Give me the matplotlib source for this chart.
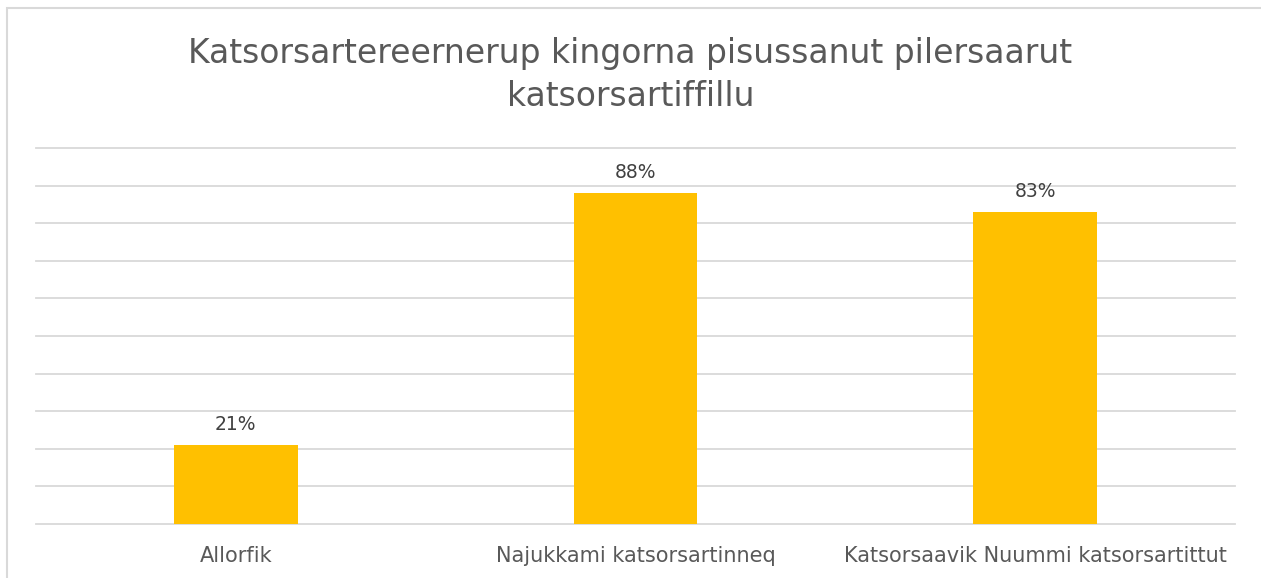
import matplotlib.pyplot as plt
from matplotlib.patches import Rectangle

# andelen der har en plan for tiden efter uddannelsen
kategorier = ['Allorfik', 'Najukkami katsorsartinneq', 'Katsorsaavik Nuummi katsorsartittut']
procent = [21, 88, 83]

fig = plt.figure(figsize=(12.61, 5.78), dpi=100)
ax = fig.add_axes([36/1261, 1-524/578, (1235-36)/1261, (524-148)/578])

# ramme rundt om diagrammet
fig.patches.append(Rectangle((7/1261, -0.1), 1.2, 1-8/578+0.1, transform=fig.transFigure,
                             fill=False, edgecolor='#d9d9d9', linewidth=1.5))

x = range(len(kategorier))
ax.bar(x, procent, width=0.31, color='#FFC000', zorder=3)
for i, v in enumerate(procent):
    ax.text(i, v + 3, f'{v}%', ha='center', va='bottom', fontsize=13.5, color='#404040')

ax.set_xlim(-0.5, 2.5)
ax.set_ylim(0, 100)
ax.set_yticks(range(0, 101, 10))
ax.yaxis.grid(True, color='#d9d9d9', linewidth=1.3)
for gl in ax.get_ygridlines():
    gl.set_clip_on(False)
ax.tick_params(left=False, bottom=False, labelleft=False)
ax.set_xticks(list(x))
ax.set_xticklabels(kategorier, fontsize=15, color='#595959')
ax.tick_params(axis='x', pad=12)
for s in ax.spines.values():
    s.set_visible(False)

fig.text(0.5, 1-75/578, 'Katsorsartereernerup kingorna pisussanut pilersaarut\nkatsorsartiffillu',
         ha='center', va='center', fontsize=23.8, color='#595959', linespacing=1.35)

fig.savefig('out.png', dpi=100)
